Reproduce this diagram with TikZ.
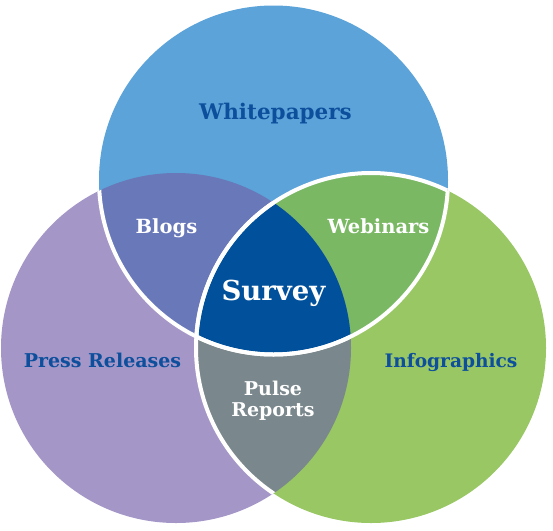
\documentclass[tikz,border=0pt]{standalone}
\usepackage{fontspec}
\newfontfamily\slab{DejaVu Serif}
\definecolor{wpblue}{HTML}{5BA3D8}
\definecolor{blogc}{HTML}{6878B9}
\definecolor{pressc}{HTML}{A496C7}
\definecolor{survc}{HTML}{00509B}
\definecolor{webc}{HTML}{7AB864}
\definecolor{infoc}{HTML}{98C764}
\definecolor{pulsec}{HTML}{7A878C}
\definecolor{txtblue}{HTML}{0D4F9C}
\def\topc{(273.5,180) circle[radius=174.5pt]}
\def\purc{(176,348) circle[radius=175pt]}
\def\grnc{(371,348) circle[radius=175pt]}
\newcommand\labsize[1]{\slab\bfseries\fontsize{#1}{#1}\selectfont}
\tikzset{
  lab/.style={font=\labsize{19}, inner sep=0pt, anchor=base},
  bluelab/.style={lab, text=txtblue},
  whitelab/.style={lab, text=white},
  sep/.style={draw=white, line width=4pt}
}
\begin{document}
\begin{tikzpicture}[x=1pt,y=-1pt]
\useasboundingbox (0,0) rectangle (553,530);
\fill[pressc] \purc;
\fill[wpblue] \topc;
\fill[infoc] \grnc;
\begin{scope}\clip \topc; \fill[blogc] \purc; \end{scope}
\begin{scope}\clip \topc; \fill[webc] \grnc; \end{scope}
\begin{scope}\clip \purc; \fill[pulsec] \grnc; \end{scope}
\begin{scope}\clip \topc; \clip \purc; \fill[survc] \grnc; \end{scope}
% white separators
\begin{scope}\clip \purc; \draw[sep] \topc; \draw[sep] \grnc; \end{scope}
\begin{scope}\clip \grnc; \draw[sep] \topc; \end{scope}
\begin{scope}\clip \topc; \draw[sep] \grnc; \end{scope}
% labels
\node[bluelab, font=\labsize{21.5}] (wp) at (275.5,119) {Whitepapers};
\node[whitelab, font=\labsize{19.5}] (blogs) at (166.5,233) {Blogs};
\node[whitelab, font=\labsize{19.5}] (web) at (378.5,233) {Webinars};
\node[whitelab, font=\labsize{27.5}] (surv) at (273.5,300) {Survey};
\node[bluelab] (press) at (102.5,367) {Press Releases};
\node[bluelab, font=\labsize{18.6}] (info) at (451,367) {Infographics};
\node[whitelab] (pulse) at (273,395) {Pulse};
\node[whitelab] (reports) at (273,416) {Reports};
\end{tikzpicture}
\end{document}
